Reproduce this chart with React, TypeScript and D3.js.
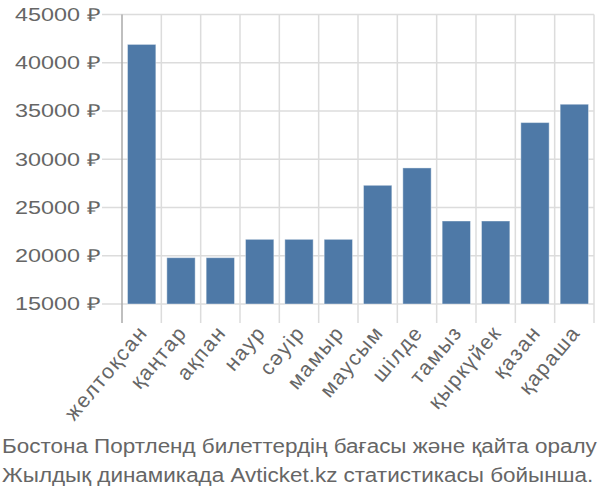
import * as d3 from "d3";

const months = [
  "желтоқсан",
  "қаңтар",
  "ақпан",
  "наур",
  "сәуір",
  "мамыр",
  "маусым",
  "шілде",
  "тамыз",
  "қыркүйек",
  "қазан",
  "қараша",
];
const prices = [41900, 19800, 19800, 21700, 21700, 21700, 27300, 29100, 23600, 23600, 33800, 35700];
const yTicks = [15000, 20000, 25000, 30000, 35000, 40000, 45000];
const captionLines = [
  "Бостона Портленд билеттердің бағасы және қайта оралу",
  "Жылдық динамикада Avticket.kz статистикасы бойынша.",
];

const W = 600;
const H = 500;
const left = 122;
const right = 594;
const top = 14.5;
const bottom = 304;
const font = "'Liberation Sans', Arial, sans-serif";

const App = () => {
  const x = d3.scaleBand<string>().domain(months).range([left, right]).padding(0);
  const y = d3.scaleLinear().domain([15000, 45000]).range([bottom, top]);
  const bw = x.bandwidth();
  const barW = bw * 0.72;

  return (
    <svg width={W} height={H} style={{ position: "absolute", left: 0, top: 0 }}>
      {/* horizontal grid */}
      {yTicks.map((t) => (
        <line key={"h" + t} x1={102} x2={right} y1={y(t)} y2={y(t)} stroke="#dcdcdc" strokeWidth={1.5} />
      ))}
      {/* vertical grid */}
      {months.map((m) => (
        <line
          key={"v" + m}
          x1={x(m)! + bw}
          x2={x(m)! + bw}
          y1={top}
          y2={323}
          stroke="#dcdcdc"
          strokeWidth={1.5}
        />
      ))}
      <line x1={left} x2={left} y1={top} y2={323} stroke="#aaa" strokeWidth={1.5} />
      {/* bars */}
      {months.map((m, i) => (
        <rect
          key={"b" + m}
          x={x(m)! + (bw - barW) / 2}
          y={y(prices[i])}
          width={barW}
          height={bottom - y(prices[i])}
          fill="#4e79a7"
          stroke="#fff"
          strokeOpacity={0.4}
          strokeWidth={1}
        />
      ))}
      {/* y labels */}
      {yTicks.map((t) => (
        <text
          key={"yl" + t}
          transform={`translate(100,${y(t)}) scale(1.3,1)`}
          textAnchor="end"
          dy="0.35em"
          fontFamily={font}
          fontSize={18}
          fill="#666"
        >
          {t} ₽
        </text>
      ))}
      {/* x labels */}
      {months.map((m) => (
        <text
          key={"xl" + m}
          transform={`translate(${x(m)! + bw / 2 + 7},${333}) rotate(-50)`}
          textAnchor="end"
          fontFamily={font}
          fontSize={21}
          letterSpacing={1.6}
          fill="#666"
        >
          {m}
        </text>
      ))}
      {/* caption */}
      {captionLines.map((l, i) => (
        <text
          key={"c" + i}
          transform={`translate(2,${453 + i * 29}) scale(1.07,1)`}
          fontFamily={font}
          fontSize={21}
          fill="#666"
        >
          {l}
        </text>
      ))}
    </svg>
  );
};

export default App;
